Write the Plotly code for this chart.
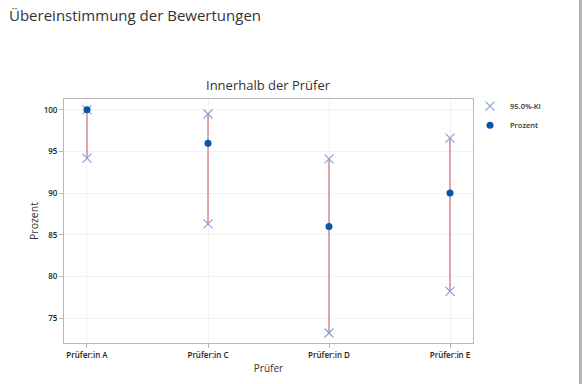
import plotly.graph_objects as go

raters = ["Prüfer:in A", "Prüfer:in C", "Prüfer:in D", "Prüfer:in E"]
percent = [100.0, 96.0, 86.0, 90.0]
ci_upper = [100.0, 99.5, 94.1, 96.6]
ci_lower = [94.2, 86.3, 73.2, 78.2]
y_ticks = [75, 80, 85, 90, 95, 100]

W, H = 582, 384
L, R, T, B = 64, 473, 99, 343

fig = go.Figure()

# CI lines
lx, ly = [], []
for r, lo, hi in zip(raters, ci_lower, ci_upper):
    lx += [r, r, None]
    ly += [lo, hi, None]
fig.add_trace(go.Scatter(x=lx, y=ly, mode="lines", line=dict(color="#d3767e", width=1.3),
                         showlegend=False, hoverinfo="skip"))

# CI markers
fig.add_trace(go.Scatter(x=raters + raters, y=ci_upper + ci_lower, mode="markers",
                         name="95.0%-KI",
                         marker=dict(symbol="x-thin-open", size=9,
                                     line=dict(color="#7d9fd8", width=1.1),
                                     color="#7d9fd8")))

# Percent markers
fig.add_trace(go.Scatter(x=raters, y=percent, mode="markers", name="Prozent",
                         marker=dict(symbol="circle", size=7, color="#0a55a8")))

tickfont = dict(size=8, color="#222222", family="Open Sans, sans-serif", weight=600)

fig.update_layout(
    width=W, height=H,
    margin=dict(l=L, r=W - R, t=T, b=H - B, pad=0, autoexpand=False),
    paper_bgcolor="white", plot_bgcolor="white",
    font=dict(family="Open Sans, Noto Sans, sans-serif", color="#333333"),
    title=dict(text="Übereinstimmung der Bewertungen", x=9 / W, xanchor="left",
               y=1 - 16 / H, yanchor="middle",
               font=dict(size=15, color="#333333")),
    legend=dict(x=(470 - L) / (R - L), xanchor="left", y=1.03, yanchor="top",
                font=dict(size=7.5, color="#333333", weight=600), bgcolor="rgba(0,0,0,0)",
                tracegroupgap=0, itemsizing="trace"),
    xaxis=dict(type="category", categoryorder="array", categoryarray=raters,
               range=[-0.19, 3.19], showline=True, linecolor="#b8b8b8", linewidth=1,
               mirror=True, showgrid=True, gridcolor="#f2f2f2", zeroline=False,
               ticks="outside", ticklen=4, tickcolor="#b8b8b8",
               tickfont=tickfont, automargin=True,
               title=dict(text="Prüfer", font=dict(size=10, color="#333333"), standoff=6)),
    yaxis=dict(range=[72.0, 101.3], tickvals=y_ticks, showline=True, linecolor="#b8b8b8",
               linewidth=1, mirror=True, showgrid=True, gridcolor="#f2f2f2", zeroline=False,
               ticks="outside", ticklen=4, tickcolor="#b8b8b8",
               tickfont=tickfont, automargin=True,
               title=dict(text="Prozent", font=dict(size=10.5, color="#333333"), standoff=2)),
    annotations=[dict(text="Innerhalb der Prüfer", xref="paper", yref="paper",
                      x=0.5, y=1, yshift=3, xanchor="center", yanchor="bottom",
                      showarrow=False, font=dict(size=13, color="#333333", weight=500))],
    shapes=[dict(type="line", xref="paper", yref="paper",
                 x0=(580.5 - L) / (R - L), x1=(580.5 - L) / (R - L),
                 y0=-(H - B) / (B - T) - 0.05, y1=B / (B - T) + 0.05,
                 line=dict(color="#b3b3b3", width=3))],
)

fig.write_html("out.html", config={"displayModeBar": False},
               post_script="document.body.style.margin='0';")
